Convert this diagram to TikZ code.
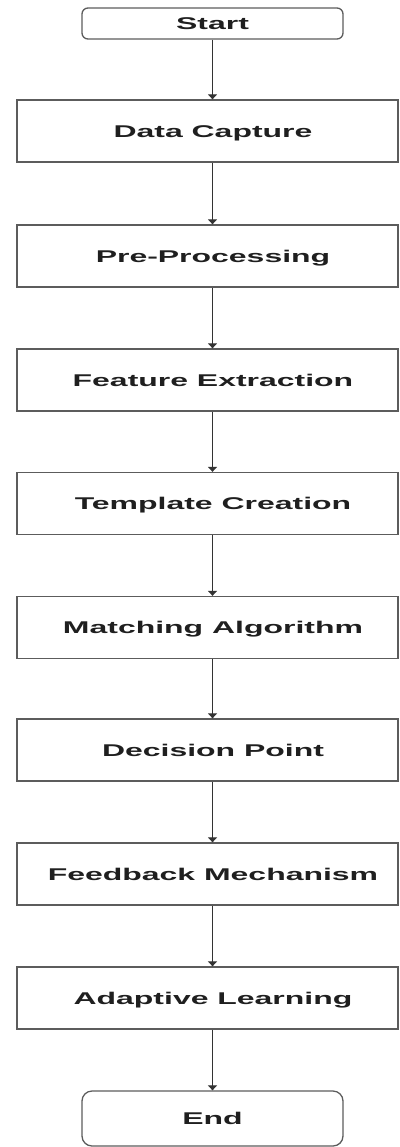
\documentclass[tikz,border=0pt]{standalone}
\usepackage{fontspec}
\usepackage{tikz}
\usetikzlibrary{arrows.meta}

\newfontfamily\flowfont[FakeStretch=1.88]{Liberation Sans}
\definecolor{boxgray}{HTML}{5C5C5C}
\definecolor{linegray}{HTML}{333333}

\begin{document}
\begin{tikzpicture}[x=1pt,y=-1pt,
   terminal/.style={draw=boxgray, line width=1.3pt, minimum width=261pt,
      inner sep=0pt, text=black!88, text height=12.2pt, text depth=0pt,
      font=\flowfont\bfseries\fontsize{17}{20}\selectfont},
   stage/.style={terminal, minimum width=381pt, minimum height=62pt,
      execute at begin node=\hspace*{11pt}},
   flow/.style={draw=linegray, line width=1.1pt, -{Triangle[width=9pt,length=5pt]}}]

   \useasboundingbox (0,0) rectangle (399,1147);
   \clip (0,0) rectangle (399,1147);

   \draw (212.5,23.5) node[terminal, rounded corners=6pt, minimum height=31pt] (start) {Start};
   \draw (207.5,131) node[stage] (capture) {Data Capture};
   \draw (207.5,256) node[stage] (preproc) {Pre-Processing};
   \draw (207.5,380) node[stage] (features) {Feature Extraction};
   \draw (207.5,503.5) node[stage] (template) {Template Creation};
   \draw (207.5,627.5) node[stage] (matching) {Matching Algorithm};
   \draw (207.5,750) node[stage] (decision) {Decision Point};
   \draw (207.5,874) node[stage] (feedback) {Feedback Mechanism};
   \draw (207.5,998) node[stage] (adaptive) {Adaptive Learning};
   \draw (212.5,1118.5) node[terminal, rounded corners=10pt, minimum height=55pt] (end) {End};

     % arrows run down the middle of start/end
     \draw[flow] (start) -- (capture.north -| start);
     \draw[flow] (capture.south -| start) -- (preproc.north -| start);
     \draw[flow] (preproc.south -| start) -- (features.north -| start);
     \draw[flow] (features.south -| start) -- (template.north -| start);
     \draw[flow] (template.south -| start) -- (matching.north -| start);
     \draw[flow] (matching.south -| start) -- (decision.north -| start);
     \draw[flow] (decision.south -| start) -- (feedback.north -| start);
     \draw[flow] (feedback.south -| start) -- (adaptive.north -| start);
     \draw[flow] (adaptive.south -| start) -- (end);

\end{tikzpicture}
\end{document}
